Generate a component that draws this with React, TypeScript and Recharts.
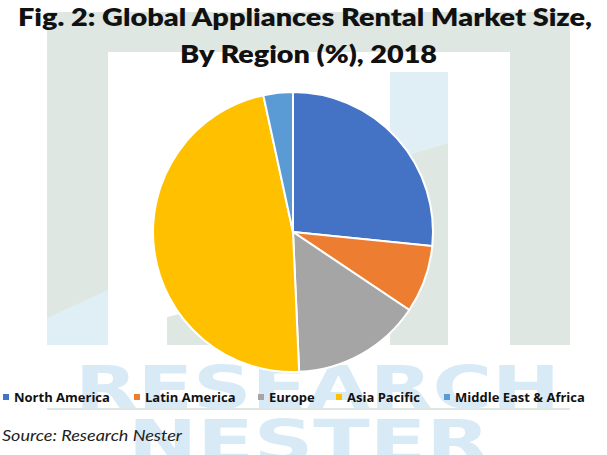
import React from 'react';
import { PieChart, Pie, Cell, Legend } from 'recharts';

const regions = ['North America', 'Latin America', 'Europe', 'Asia Pacific', 'Middle East & Africa'];
const shares = [26.6, 7.8, 14.9, 47.3, 3.4];
const colors = ['#4472C4', '#ED7D31', '#A5A5A5', '#FFC000', '#5B9BD5'];
const titleLines = ['Fig. 2: Global Appliances Rental Market Size,', 'By Region (%), 2018'];
const sourceText = 'Source: Research Nester';
const watermarkWords = ['RESEARCH', 'NESTER'];

const data = regions.map((name, i) => ({ name, value: shares[i] }));

const LEGEND_X = [3, 134, 258, 336, 444];
const WM_GRAY = '#dfe7e3';
const WM_BLUE = '#e0eef6';
const WM_TEXT = '#d8eaf5';

function Background() {
  return (
    <svg width={607} height={455} style={{ position: 'absolute', left: 0, top: 0 }}>
      <rect x={0} y={0} width={607} height={455} fill="#ffffff" />
      {/* watermark logo */}
      <rect x={47} y={12} width={523} height={333} fill={WM_GRAY} />
      <polygon points="47,318 108,290 108,345 47,345" fill={WM_BLUE} />
      <rect x={108} y={52} width={402} height={293} fill="#ffffff" />
      <polygon points="390,72 448,72 448,143 390,160" fill={WM_BLUE} />
      <polygon points="390,160 448,143 448,345 390,345" fill={WM_GRAY} />
      <polygon points="167,317 240,300 240,345 167,345" fill={WM_GRAY} />
      <line x1={47} y1={409} x2={570} y2={409} stroke={WM_GRAY} strokeWidth={2} />
      <text x={75} y={408} textLength={485} lengthAdjust="spacingAndGlyphs"
        fontFamily="DejaVu Sans" fontWeight={700} fontSize={59} fill={WM_TEXT}>{watermarkWords[0]}</text>
      <text x={128} y={462} textLength={362} lengthAdjust="spacingAndGlyphs"
        fontFamily="DejaVu Sans" fontWeight={700} fontSize={59} fill={WM_TEXT}>{watermarkWords[1]}</text>
      {/* title */}
      <text x={18} y={26} textLength={574} lengthAdjust="spacingAndGlyphs"
        fontFamily="Lato" fontWeight={800} fontSize={24} fill="#111">{titleLines[0]}</text>
      <text x={180} y={63} textLength={257} lengthAdjust="spacingAndGlyphs"
        fontFamily="Lato" fontWeight={800} fontSize={24} fill="#111">{titleLines[1]}</text>
      {/* source */}
      <text x={2} y={441} textLength={180} lengthAdjust="spacingAndGlyphs"
        fontFamily="Lato" fontStyle="italic" fontSize={16} fill="#222">{sourceText}</text>
    </svg>
  );
}

function LegendContent() {
  return (
    <div style={{ position: 'relative', width: 607, height: 16 }}>
      {regions.map((r, i) => (
        <div key={r} style={{ position: 'absolute', left: LEGEND_X[i], top: 0, display: 'flex', alignItems: 'center', whiteSpace: 'nowrap' }}>
          <span style={{ display: 'inline-block', width: 6, height: 6, background: colors[i], marginRight: 5 }} />
          <span style={{ fontFamily: 'Open Sans', fontWeight: 700, fontSize: 13, color: '#111' }}>{r}</span>
        </div>
      ))}
    </div>
  );
}

export default function App() {
  return (
    <div style={{ position: 'absolute', left: 0, top: 0, width: 607, height: 455, background: '#fff' }}>
      <Background />
      <div style={{ position: 'absolute', left: 0, top: 0 }}>
        <PieChart width={607} height={455} margin={{ top: 0, right: 0, bottom: 0, left: 0 }}>
          <Pie
            data={data}
            dataKey="value"
            nameKey="name"
            cx={293}
            cy={232}
            outerRadius={140}
            startAngle={90}
            endAngle={-270}
            stroke="#ffffff"
            strokeWidth={2}
            isAnimationActive={false}
          >
            {data.map((d, i) => (
              <Cell key={d.name} fill={colors[i]} />
            ))}
          </Pie>
          <Legend content={LegendContent} wrapperStyle={{ position: 'absolute', left: 0, top: 388, width: 607, height: 16 }} />
        </PieChart>
      </div>
    </div>
  );
}
